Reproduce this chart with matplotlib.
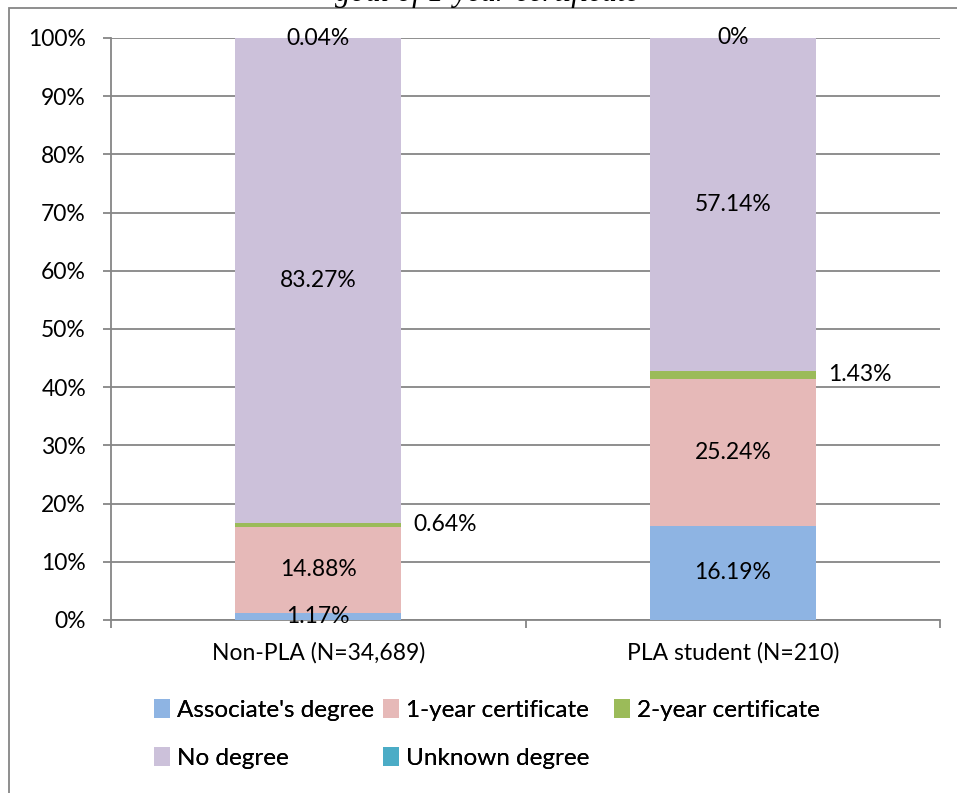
import matplotlib
matplotlib.use("Agg")
import matplotlib.pyplot as plt
import numpy as np
from matplotlib.patches import Rectangle

plt.rcParams["font.family"] = ["Lato", "DejaVu Sans"]

# data (percent of students in each group)
groups = ["Non-PLA (N=34,689)", "PLA student (N=210)"]
series = ["Associate's degree", "1-year certificate", "2-year certificate",
          "No degree", "Unknown degree"]
associate = [1.17, 16.19]
one_year = [14.88, 25.24]
two_year = [0.64, 1.43]
no_degree = [83.27, 57.14]
unknown = [0.04, 0.0]
colors = ["#8EB4E3", "#E6B9B8", "#9BBB59", "#CCC1DA", "#4BACC6"]

values = [associate, one_year, two_year, no_degree, unknown]
label_txt = [["1.17%", "16.19%"], ["14.88%", "25.24%"], ["0.64%", "1.43%"],
             ["83.27%", "57.14%"], ["0.04%", "0%"]]

W, H = 957, 793
fig = plt.figure(figsize=(W / 100, H / 100), dpi=100)
ax = fig.add_axes([111 / W, 1 - 620 / H, (940 - 111) / W, (620 - 38) / H])

grid_col = "#868686"
fs = 16.5
x = np.arange(len(groups))
bottom = np.zeros(len(groups))
handles = []
for i, (name, vals, col) in enumerate(zip(series, values, colors)):
    vals = np.array(vals)
    b = ax.bar(x, vals, width=0.4, bottom=bottom, color=col, label=name, zorder=3)
    handles.append(b)
    for j in range(len(groups)):
        yc = bottom[j] + vals[j] / 2
        if name == "2-year certificate":
            ax.annotate(label_txt[i][j], (x[j] + 0.2, yc), xytext=(9, 0),
                        textcoords="offset points", ha="left", va="center",
                        fontsize=fs, zorder=5)
        else:
            ax.text(x[j], yc, label_txt[i][j], ha="center", va="center",
                    fontsize=fs, zorder=5)
    bottom = bottom + vals

ax.set_xlim(-0.5, 1.5)
ax.set_ylim(0, 100)
ax.set_yticks(np.arange(0, 101, 10))
ax.set_yticklabels([f"{v}%" for v in range(0, 101, 10)])
ax.yaxis.grid(True, color=grid_col, lw=1.3, zorder=0)
ax.set_axisbelow(True)

ax.set_xticks(x)
ax.set_xticklabels(groups)
ax.set_xticks([-0.5, 0.5, 1.5], minor=True)
ax.tick_params(axis="x", which="major", length=0, pad=16, labelsize=fs)
ax.tick_params(axis="x", which="minor", length=6, color=grid_col, width=1.3)
ax.tick_params(axis="y", length=6, color=grid_col, width=1.3, pad=12, labelsize=fs)

for s in ["top", "right"]:
    ax.spines[s].set_visible(False)
for s in ["left", "bottom"]:
    ax.spines[s].set_color(grid_col)
    ax.spines[s].set_linewidth(1.3)

# legend: three equal-width columns, row-major like the original
leg_fs = 17.5
col_x = [154, 383, 614]
col_items = [[0, 3], [1, 4], [2]]
for cx, items in zip(col_x, col_items):
    leg = fig.legend([handles[k] for k in items], [series[k] for k in items],
                     loc="upper left", bbox_to_anchor=(cx / W, 1 - 699 / H),
                     ncol=1, frameon=False, fontsize=leg_fs, handlelength=0.66,
                     handleheight=0.85, handletextpad=0.3, labelspacing=1.05,
                     borderpad=0, borderaxespad=0)
    fig.add_artist(leg)

# outer chart border (cropped on the right/bottom)
fig.add_artist(Rectangle((9 / W, -0.1), 1.2, 1.1 - 8 / H, transform=fig.transFigure,
                         fill=False, edgecolor=grid_col, lw=1.3))

# cut-off title from the page above
fig.text(487 / W, 1 - 1.5 / H, "goal of 1-year certificate", ha="center",
         va="baseline", family="Liberation Serif", style="italic", fontsize=22)

fig.savefig("out.png", dpi=100)
